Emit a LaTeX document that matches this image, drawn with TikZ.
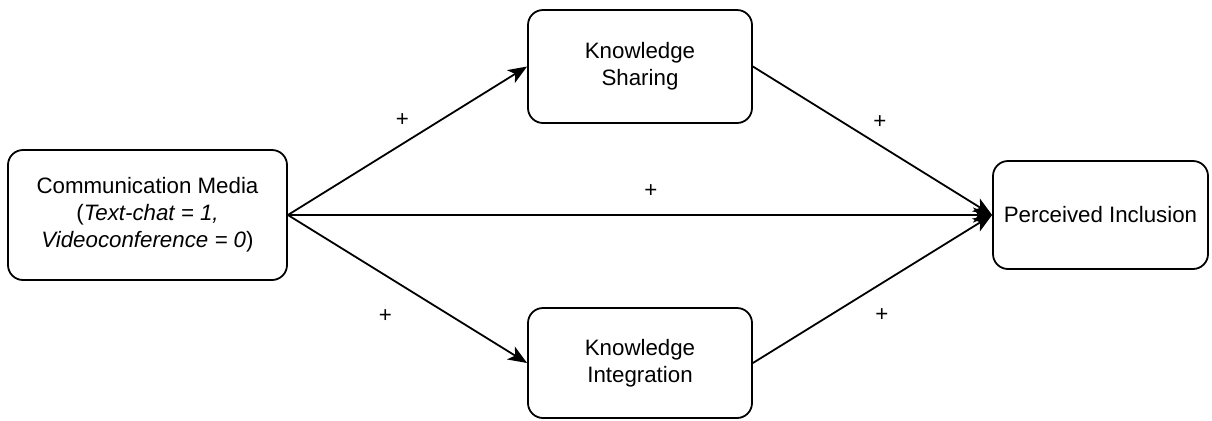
\documentclass[tikz,border=0pt]{standalone}
\usepackage{fontspec}
\setmainfont{Liberation Sans}
\usepackage{tikz}
\usetikzlibrary{arrows.meta,
                positioning}
\tikzset{construct/.style =
   {rectangle,
    rounded corners=7.5pt,
    draw,
    line width=0.9pt,
    align=center,
    font=\fontsize{11.15}{13.5}\selectfont}}
\tikzset{arrow/.style = {draw, line width=0.9pt, -{Stealth[length=9.5pt, width=7.5pt, inset=2.5pt]}}}
\tikzset{sign/.style = {font=\fontsize{11.15}{13.5}\selectfont, inner sep=1pt}}

\begin{document}
\begin{tikzpicture}[x=0.5pt, y=-0.5pt]

    \useasboundingbox (0,0) rectangle (1212,420);

    \node [construct, minimum width=139.5pt, minimum height=65pt] (media) at (147.5,215)
    {Communication Media\\ (\textit{Text-chat = 1,}\\ \textit{Videoconference = 0})};

    \node [construct, minimum width=112pt, minimum height=56.5pt] (sharing) at (640,66.5)
    {Knowledge\\ Sharing};

    \node [construct, minimum width=112pt, minimum height=55pt] (integration) at (640,363)
    {Knowledge\\ Integration};

    \node [construct, minimum width=107.5pt, minimum height=54pt] (inclusion) at (1100.5,215)
    {Perceived Inclusion};

    \draw [arrow] (media.east) -- (sharing.west)
     node [sign, midway, shift={(-5,-21)}] (p1) {+};
    \draw [arrow] (media.east) -- (integration.west)
     node [sign, midway, shift={(-22,27)}] (p2) {+};
    \draw [arrow] (media.east) -- (inclusion.west)
     node [sign, midway, shift={(11,-24)}] (p3) {+};
    \draw [arrow] (sharing.east) -- (inclusion.west)
     node [sign, midway, shift={(7.5,-18.5)}] (p4) {+};
    \draw [arrow] (integration.east) -- (inclusion.west)
     node [sign, midway, shift={(9.5,26)}] (p5) {+};

\end{tikzpicture}
\end{document}
